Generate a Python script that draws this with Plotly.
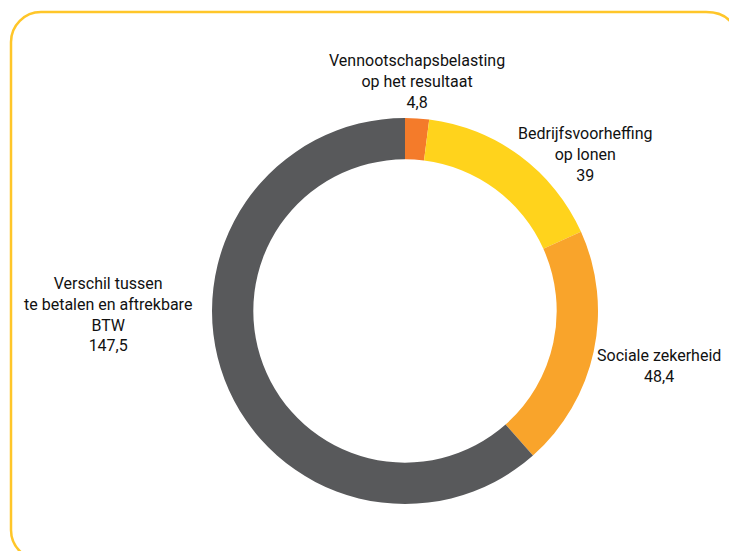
import plotly.graph_objects as go

# Tax categories and amounts
categories = [
    "Vennootschapsbelasting op het resultaat",
    "Bedrijfsvoorheffing op lonen",
    "Sociale zekerheid",
    "Verschil tussen te betalen en aftrekbare BTW",
]
label_lines = [
    ["Vennootschapsbelasting", "op het resultaat"],
    ["Bedrijfsvoorheffing", "op lonen"],
    ["Sociale zekerheid"],
    ["Verschil tussen", "te betalen en aftrekbare", "BTW"],
]
values = [4.8, 39, 48.4, 147.5]
colors = ["#F47B2A", "#FFD31C", "#F9A42B", "#58595B"]

W, H = 729, 551

def px(x, y):
    """Convert pixel position (from top-left) to paper coordinates."""
    return x / W, 1 - y / H

def fmt(v):
    return f"{v:g}".replace(".", ",")

fig = go.Figure()

cx, cy, r = 405, 311, 193
x0, y_top = px(cx - r, cy - r)
x1, y_bot = px(cx + r, cy + r)

fig.add_trace(go.Pie(
    labels=categories,
    values=values,
    sort=False,
    direction="clockwise",
    rotation=0,
    hole=0.786,
    marker=dict(colors=colors, line=dict(width=0)),
    textinfo="none",
    showlegend=False,
    domain=dict(x=[x0, x1], y=[y_bot, y_top]),
))

# Label placement (pixel centres of each text block)
label_pos = [(417, 81), (585, 154), (659, 366), (108, 314)]
for lines, v, (lx, ly) in zip(label_lines, values, label_pos):
    ax, ay = px(lx, ly)
    fig.add_annotation(
        x=ax, y=ay, xref="paper", yref="paper",
        text="<br>".join(lines + [fmt(v)]),
        showarrow=False, xanchor="center", yanchor="middle", align="center",
        font=dict(family="Roboto", size=16, color="#111111"),
    )

# Rounded frame: left side, top and the start of the top-right corner
L, T, B, rad = 11, 12, 560, 30
k = 0.5523 * rad

def p(x, y):
    a, b = px(x, y)
    return f"{a:.5f},{b:.5f}"

path = (
    f"M {p(L + rad, B)} "
    f"C {p(L + rad - k, B)} {p(L, B - rad + k)} {p(L, B - rad)} "
    f"L {p(L, T + rad)} "
    f"C {p(L, T + rad - k)} {p(L + rad - k, T)} {p(L + rad, T)} "
    f"L {p(706, T)} "
    f"Q {p(722, T)} {p(730, T + 9)}"
)
fig.add_shape(type="path", path=path, xref="paper", yref="paper",
              line=dict(color="#FFC629", width=2.5))

fig.update_layout(
    width=W, height=H,
    margin=dict(l=0, r=0, t=0, b=0),
    paper_bgcolor="white",
    plot_bgcolor="white",
)

fig.write_html("out.html")
